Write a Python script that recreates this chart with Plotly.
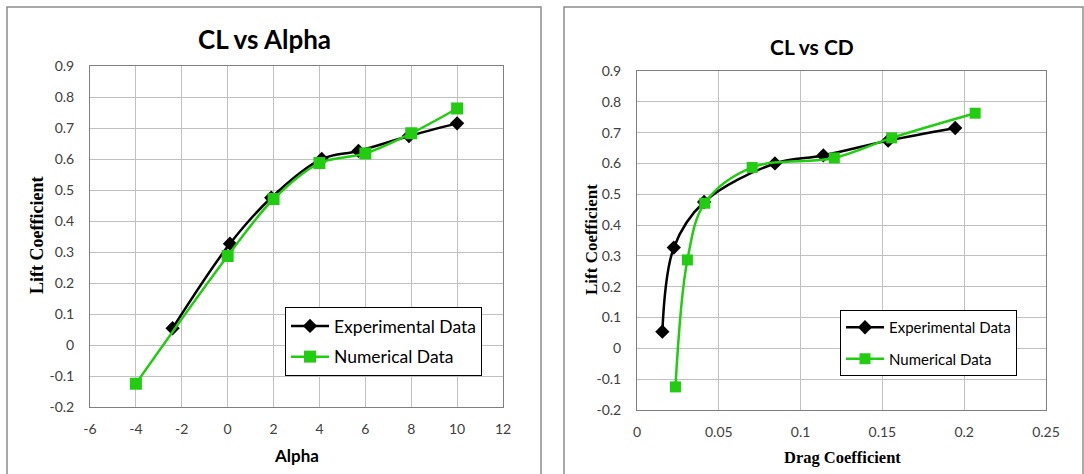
import plotly.graph_objects as go

# ---- data ----
alpha_exp = [-2.4, 0.1, 1.9, 4.1, 5.7, 7.9, 10.0]
cl_exp = [0.054, 0.327, 0.475, 0.600, 0.626, 0.674, 0.715]
cd_exp = [0.0155, 0.0225, 0.041, 0.0843, 0.1139, 0.1535, 0.1945]

alpha_num = [-4, 0, 2, 4, 6, 8, 10]
cl_num = [-0.125, 0.287, 0.471, 0.587, 0.618, 0.683, 0.763]
cd_num = [0.0235, 0.0308, 0.0414, 0.0704, 0.1206, 0.1557, 0.2067]

alpha_ticks = [-6, -4, -2, 0, 2, 4, 6, 8, 10, 12]
alpha_labels = ["-6", "-4", "-2", "0", "2", "4", "6", "8", "10", "12"]
cd_ticks = [0, 0.05, 0.1, 0.15, 0.2, 0.25]
cd_labels = ["0", "0.05", "0.1", "0.15", "0.2", "0.25"]
cl_ticks = [-0.2, -0.1, 0, 0.1, 0.2, 0.3, 0.4, 0.5, 0.6, 0.7, 0.8, 0.9]
cl_labels = ["-0.2", "-0.1", "0", "0.1", "0.2", "0.3", "0.4", "0.5", "0.6", "0.7", "0.8", "0.9"]

W, H = 1084, 474
BLACK = "#000000"
GREEN = "#22cc11"

def px(x):
    return x / W

def py(y):
    return 1 - y / H

fig = go.Figure()

# left chart
fig.add_trace(go.Scatter(x=alpha_exp, y=cl_exp, name="Experimental Data", mode="lines+markers",
                         line=dict(color=BLACK, width=2.5, shape="spline"),
                         marker=dict(symbol="diamond", size=11, color=BLACK),
                         xaxis="x", yaxis="y", legend="legend", legendgroup="a"))
fig.add_trace(go.Scatter(x=alpha_num, y=cl_num, name="Numerical Data", mode="lines+markers",
                         line=dict(color=GREEN, width=2.5, shape="spline"),
                         marker=dict(symbol="square", size=12, color=GREEN),
                         xaxis="x", yaxis="y", legend="legend", legendgroup="b"))
# right chart
fig.add_trace(go.Scatter(x=cd_exp, y=cl_exp, name="Experimental Data", mode="lines+markers",
                         line=dict(color=BLACK, width=2.5, shape="spline"),
                         marker=dict(symbol="diamond", size=11, color=BLACK),
                         xaxis="x2", yaxis="y2", legend="legend2", legendgroup="c"))
fig.add_trace(go.Scatter(x=cd_num, y=cl_num, name="Numerical Data", mode="lines+markers",
                         line=dict(color=GREEN, width=2.5, shape="spline"),
                         marker=dict(symbol="square", size=11, color=GREEN),
                         xaxis="x2", yaxis="y2", legend="legend2", legendgroup="d"))

tickfont = dict(family="Lato", size=14, color="#404040")
common = dict(showgrid=True, gridcolor="#c0c0c0", gridwidth=1, zeroline=False,
              showline=True, linecolor="#7f7f7f", linewidth=1, mirror=True,
              ticks="", tickfont=tickfont, automargin=False, tickmode="array")

fig.update_layout(
    template="none",
    width=W, height=H,
    margin=dict(l=0, r=0, t=0, b=0, pad=0),
    paper_bgcolor="white", plot_bgcolor="white",
    xaxis=dict(domain=[px(90), px(503)], range=[-6, 12], tickvals=alpha_ticks, ticktext=alpha_labels,
               anchor="y", ticklabelstandoff=9, **common),
    yaxis=dict(domain=[py(407), py(66)], range=[-0.2, 0.9], tickvals=cl_ticks, ticktext=cl_labels,
               anchor="x", ticklabelstandoff=12, **common),
    xaxis2=dict(domain=[px(637), px(1046)], range=[0, 0.25], tickvals=cd_ticks, ticktext=cd_labels,
                anchor="y2", ticklabelstandoff=9, **common),
    yaxis2=dict(domain=[py(410), py(71)], range=[-0.2, 0.9], tickvals=cl_ticks, ticktext=cl_labels,
                anchor="x2", ticklabelstandoff=12, **common),
    legend=dict(x=px(285), y=py(307), xanchor="left", yanchor="top",
                bgcolor="white", bordercolor="#000000", borderwidth=1,
                font=dict(family="Lato", size=17.5, color="#000000"),
                traceorder="grouped", tracegroupgap=5, itemwidth=38,
                entrywidth=200, entrywidthmode="pixels"),
    legend2=dict(x=px(840), y=py(310), xanchor="left", yanchor="top",
                 bgcolor="white", bordercolor="#000000", borderwidth=1,
                 font=dict(family="Lato", size=15, color="#000000"),
                 traceorder="grouped", tracegroupgap=9, itemwidth=38,
                 entrywidth=186, entrywidthmode="pixels"),
    showlegend=True,
)

annotations = [
    dict(text="<b>CL vs Alpha</b>", x=px(264), y=py(39), font=dict(family="Lato", size=26, color="#000")),
    dict(text="<b>CL vs CD</b>", x=px(812), y=py(46), font=dict(family="Lato", size=21, color="#000")),
    dict(text="<b>Alpha</b>", x=px(296), y=py(455), font=dict(family="Lato", size=17, color="#000")),
    dict(text="<b>Drag Coefficient</b>", x=px(842), y=py(457),
         font=dict(family="Liberation Serif", size=16.5, color="#000")),
    dict(text="<b>Lift Coefficient</b>", x=px(37), y=py(236), textangle=-90,
         font=dict(family="Liberation Serif", size=18, color="#000")),
    dict(text="<b>Lift Coefficient</b>", x=px(591), y=py(240), textangle=-90,
         font=dict(family="Liberation Serif", size=17, color="#000")),
]
for a in annotations:
    a.update(xref="paper", yref="paper", showarrow=False, xanchor="center", yanchor="middle")
fig.update_layout(annotations=annotations)

shapes = [
    dict(type="rect", xref="paper", yref="paper", x0=px(7), x1=px(541), y0=-0.05, y1=py(7),
         line=dict(color="#8c8c8c", width=1.5), fillcolor="rgba(0,0,0,0)", layer="below"),
    dict(type="rect", xref="paper", yref="paper", x0=px(564), x1=px(1083), y0=-0.05, y1=py(7),
         line=dict(color="#8c8c8c", width=1.5), fillcolor="rgba(0,0,0,0)", layer="below"),
]
fig.update_layout(shapes=shapes)

fig.write_html("out.html", config={"displayModeBar": False},
               post_script="document.body.style.margin='0';document.body.style.overflow='hidden';")
